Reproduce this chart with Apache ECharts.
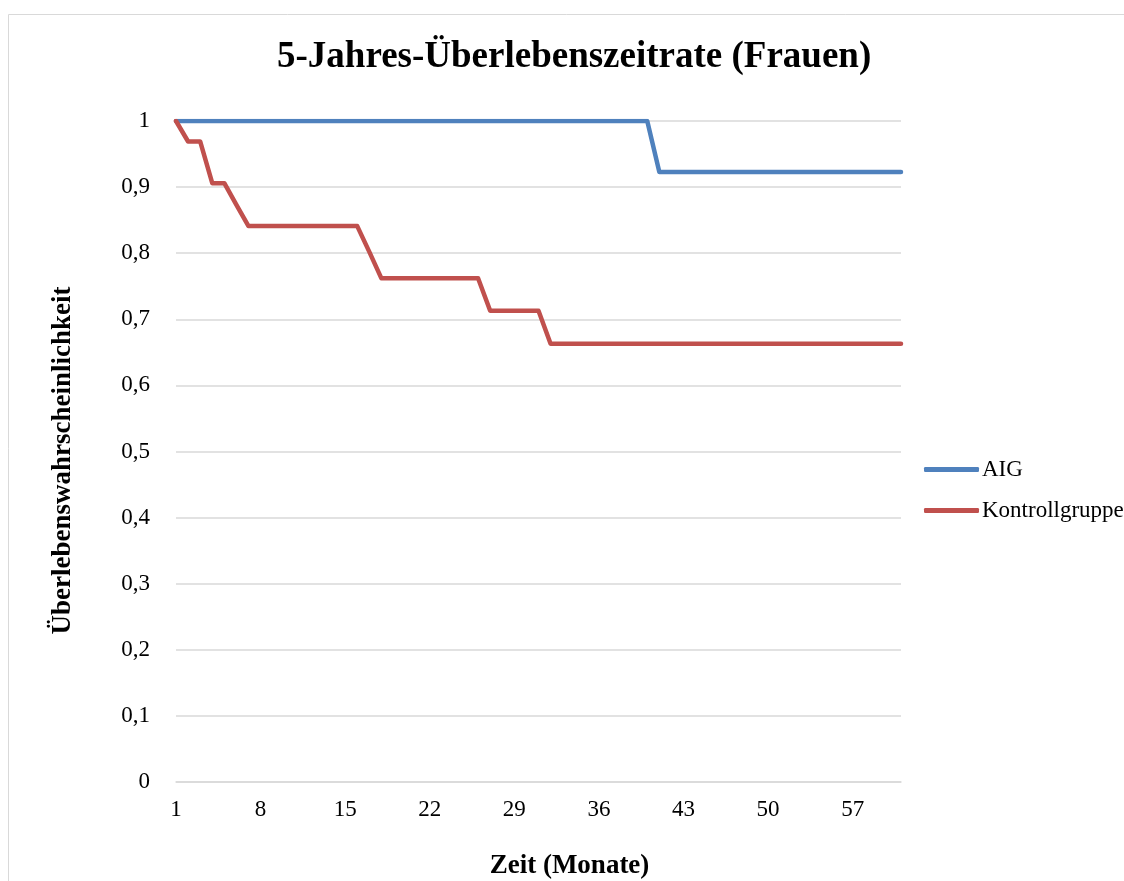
<!DOCTYPE html>
<html>
<head>
<meta charset="utf-8">
<script src="https://cdn.jsdelivr.net/npm/echarts@6/dist/echarts.min.js"></script>
<style>
  html, body { margin: 0; padding: 0; background: #fff; }
  #chart { width: 1124px; height: 881px; }
</style>
</head>
<body>
<div id="chart"></div>
<script>
// Monate 1..61
var months = [
  1, 2, 3, 4, 5, 6, 7, 8, 9, 10,
  11, 12, 13, 14, 15, 16, 17, 18, 19, 20,
  21, 22, 23, 24, 25, 26, 27, 28, 29, 30,
  31, 32, 33, 34, 35, 36, 37, 38, 39, 40,
  41, 42, 43, 44, 45, 46, 47, 48, 49, 50,
  51, 52, 53, 54, 55, 56, 57, 58, 59, 60,
  61
]

var aig = [
  1, 1, 1, 1, 1, 1, 1, 1, 1, 1,
  1, 1, 1, 1, 1, 1, 1, 1, 1, 1,
  1, 1, 1, 1, 1, 1, 1, 1, 1, 1,
  1, 1, 1, 1, 1, 1, 1, 1, 1, 1,
  0.923, 0.923, 0.923, 0.923, 0.923, 0.923, 0.923, 0.923, 0.923, 0.923,
  0.923, 0.923, 0.923, 0.923, 0.923, 0.923, 0.923, 0.923, 0.923, 0.923,
  0.923
]

var kontroll = [
  1, 0.969, 0.969, 0.906, 0.906, 0.873, 0.841, 0.841, 0.841, 0.841,
  0.841, 0.841, 0.841, 0.841, 0.841, 0.841, 0.802, 0.762, 0.762, 0.762,
  0.762, 0.762, 0.762, 0.762, 0.762, 0.762, 0.713, 0.713, 0.713, 0.713,
  0.713, 0.663, 0.663, 0.663, 0.663, 0.663, 0.663, 0.663, 0.663, 0.663,
  0.663, 0.663, 0.663, 0.663, 0.663, 0.663, 0.663, 0.663, 0.663, 0.663,
  0.663, 0.663, 0.663, 0.663, 0.663, 0.663, 0.663, 0.663, 0.663, 0.663,
  0.663
]

var font = 'Liberation Serif'
var chart = echarts.init(document.getElementById('chart'))

var option = {
  animation: false,
  color: ['#4F81BD', '#C0504D'],
  title: {
    text: '5-Jahres-Überlebenszeitrate (Frauen)',
    left: 272,
    top: 34,
    textStyle: {
      fontFamily: font,
      fontSize: 37,
      fontWeight: 'bold',
      color: '#000'
    }
  },
  graphic: [{
    type: 'rect',
    shape: { x: 8.5, y: 14.5, width: 1300, height: 1000 },
    style: { fill: 'none', stroke: '#d9d9d9', lineWidth: 1 },
    silent: true
  }],
  legend: {
    orient: 'vertical',
    left: 919,
    top: 453,
    itemGap: 18,
    itemWidth: 55,
    itemHeight: 5,
    icon: 'roundRect',
    textStyle: {
      fontFamily: font,
      fontSize: 23,
      color: '#000',
      padding: [0, 0, 0, -2]
    },
    data: ['AIG', 'Kontrollgruppe']
  },
  grid: {
    left: 176,
    right: 223,
    top: 121,
    bottom: 99,
    outerBoundsMode: 'none'
  },
  xAxis: {
    type: 'category',
    data: months,
    boundaryGap: false,
    name: 'Zeit (Monate)',
    nameLocation: 'middle',
    nameGap: 71,
    nameTextStyle: {
      fontFamily: font,
      fontSize: 27,
      fontWeight: 'bold',
      color: '#000',
      padding: [0, 0, 0, 62]
    },
    axisLine: { show: true, lineStyle: { color: '#d9d9d9', width: 1.5 } },
    axisTick: { show: false },
    axisLabel: {
      interval: 6,
      margin: 16,
      fontFamily: font,
      fontSize: 23,
      color: '#000'
    },
    splitLine: { show: false }
  },
  yAxis: {
    type: 'value',
    min: 0,
    max: 1,
    interval: 0.1,
    name: 'Überlebenswahrscheinlichkeit',
    nameLocation: 'middle',
    nameGap: 99,
    nameTextStyle: {
      fontFamily: font,
      fontSize: 27,
      fontWeight: 'bold',
      color: '#000',
      padding: [0, 18, 0, 0]
    },
    axisLine: { show: false },
    axisTick: { show: false },
    axisLabel: {
      margin: 26,
      fontFamily: font,
      fontSize: 23,
      color: '#000',
      formatter: function (v) {
        return String(+v.toFixed(1)).replace('.', ',')
      }
    },
    splitLine: { lineStyle: { color: '#d9d9d9', width: 1.5 } }
  },
  series: [{
    name: 'AIG',
    type: 'line',
    data: aig,
    symbol: 'none',
    lineStyle: { width: 4.5, cap: 'round', join: 'round' }
  }, {
    name: 'Kontrollgruppe',
    type: 'line',
    data: kontroll,
    symbol: 'none',
    lineStyle: { width: 4.5, cap: 'round', join: 'round' }
  }]
}

chart.setOption(option)
</script>
</body>
</html>
